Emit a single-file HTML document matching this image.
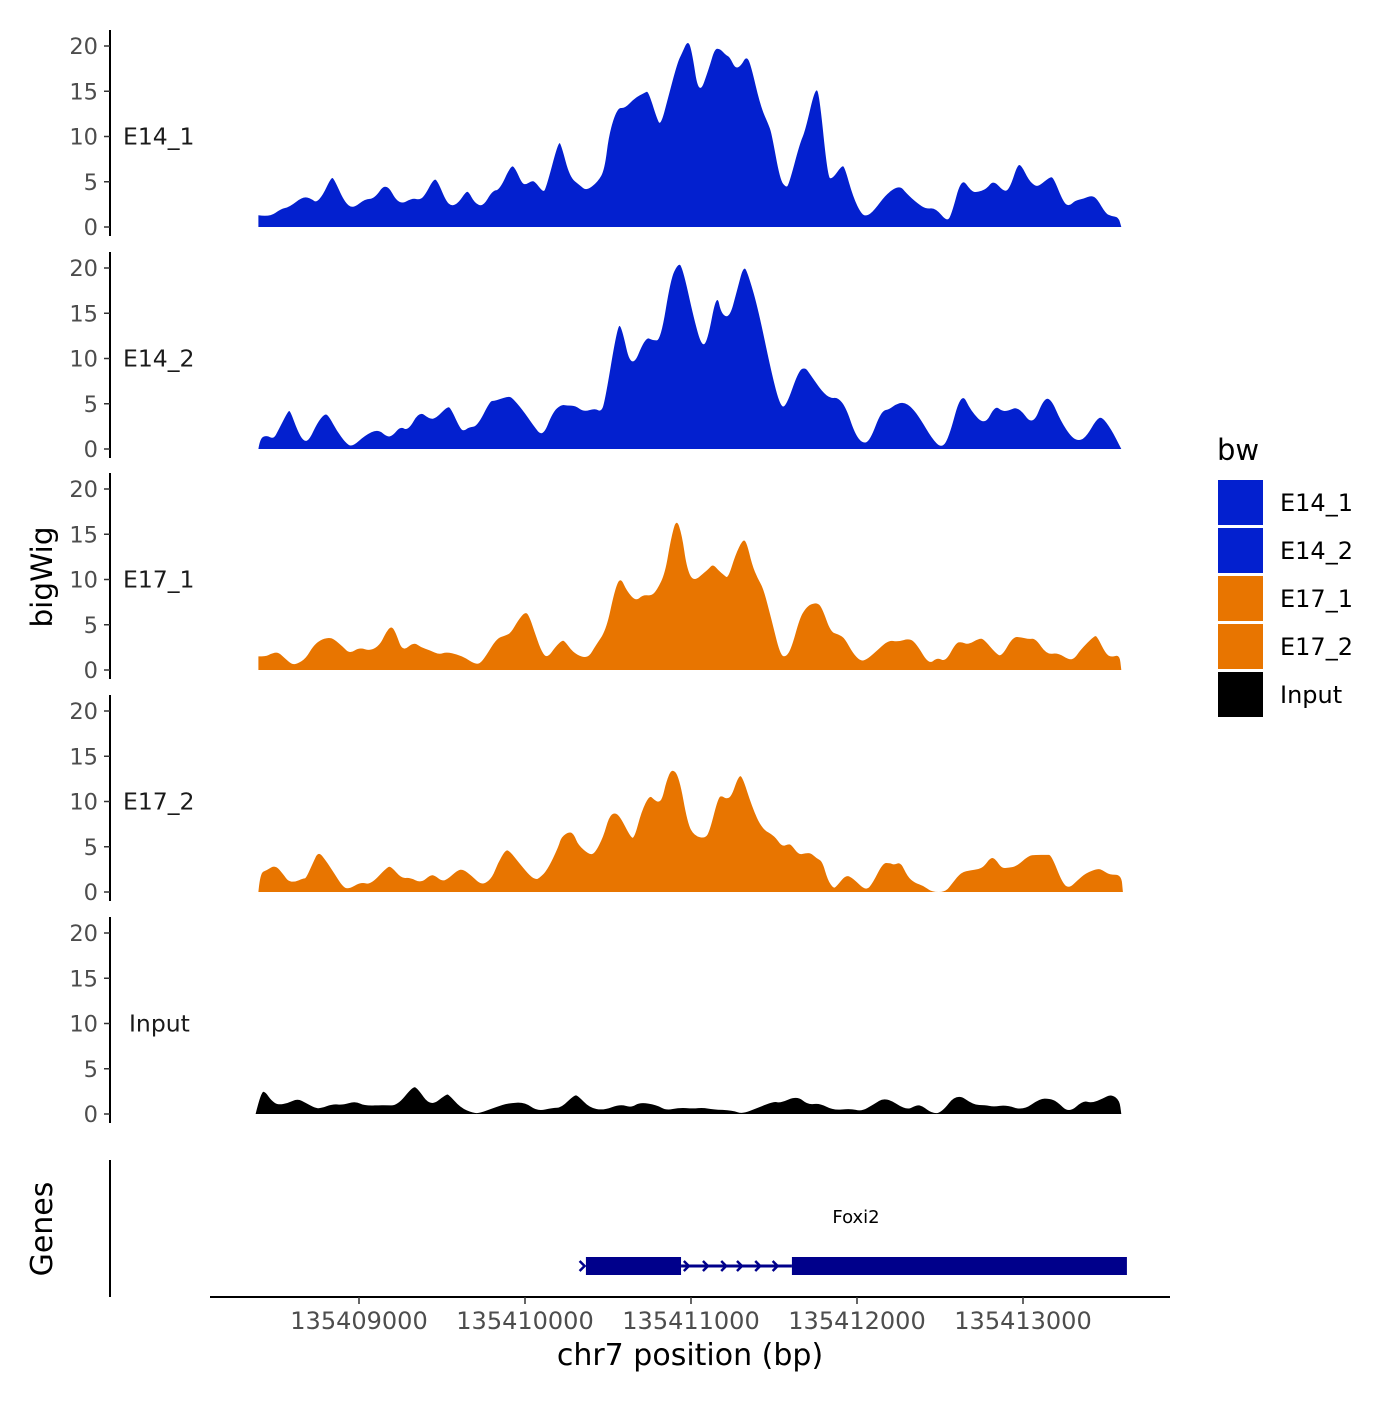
<!DOCTYPE html>
<html><head><meta charset="utf-8"><style>
body{margin:0;background:#fff}
svg text{font-family:"DejaVu Sans","Liberation Sans",sans-serif}
</style></head><body>
<svg id="c" width="1400" height="1400" viewBox="0 0 1400 1400" xmlns="http://www.w3.org/2000/svg"></svg>
<script>
const REGION_START = 135408000;
const xTicks = [135409000, 135410000, 135411000, 135412000, 135413000];
const yTicks = [0, 5, 10, 15, 20];
const trackNames = ["E14_1", "E14_2", "E17_1", "E17_2", "Input"];
const trackColors = ["#0320cf", "#0320cf", "#e87500", "#e87500", "#000000"];

const e14_1Pos = [394,461,529,580,664,715,742,782,833,850,911,962,1036,1093,1164,1239,1323,1357,1391,1452,1475,1526,1560,1600,1644,1661,1695,1746,1803,1847,1915,1938,1982,2006,2040,2060,2107,2124,2202,2219,2270,2330,2371,2439,2479,2506,2557,2601,2658,2726,2743,2794,2817,2861,2919,2946,2979,3003,3047,3108,3142,3175,3209,3233,3267,3301,3334,3361,3419,3470,3486,3537,3571,3588,3655,3689,3750,3774,3824,3851,3909,3926,3977,4027,4061,4102,4179,4257,4298,4365,4416,4473,4541,4568,4629,4686,4720,4781,4822,4889,4923,4967,4991,5034,5075,5102,5160,5183,5244,5278,5312,5362,5413,5447,5498,5531,5575,5592];
const e14_1Val = [1.3,1.1,2.0,2.2,3.4,3.1,2.7,3.5,5.5,5.3,2.8,2.0,3.1,3.1,5.0,2.4,3.2,3.0,3.3,5.4,5.0,2.8,2.3,2.7,3.9,3.9,2.7,2.2,4.0,4.1,6.8,6.6,4.8,4.7,5.1,5.0,3.9,4.1,9.5,9.0,5.5,4.6,4.0,5.0,6.3,10.3,13.2,13.1,14.2,14.9,15.0,12.0,11.2,14.2,18.2,19.2,20.6,19.7,14.4,17.5,19.7,19.7,19.0,18.8,17.5,17.8,18.9,17.9,13.3,11.2,10.3,5.2,4.4,4.6,9.2,10.7,15.5,14.5,5.5,5.3,6.8,6.6,3.3,1.4,1.2,1.8,3.7,4.6,3.7,2.6,2.0,2.1,0.6,1.3,5.5,4.0,3.8,4.2,5.2,3.8,4.4,6.9,6.8,5.2,4.5,4.6,5.5,5.5,2.7,2.3,2.9,3.1,3.5,3.1,1.5,1.2,1.1,0];

const e14_2Pos = [394,404,444,485,512,573,586,630,664,698,749,793,816,867,918,958,1036,1114,1171,1205,1249,1296,1364,1425,1465,1533,1553,1611,1634,1661,1712,1790,1813,1847,1898,1921,1982,2050,2107,2168,2219,2253,2303,2354,2422,2456,2479,2557,2581,2641,2726,2770,2817,2878,2919,2946,3020,3064,3098,3155,3182,3233,3277,3317,3344,3402,3486,3537,3571,3649,3689,3716,3791,3841,3885,3933,3987,4034,4078,4146,4196,4230,4281,4331,4382,4450,4507,4551,4629,4686,4771,4832,4872,4906,4974,5058,5126,5170,5227,5295,5345,5386,5440,5474,5531,5592];
const e14_2Val = [0,1.2,1.5,1.1,2.0,4.2,4.2,2.0,0.9,0.9,2.9,3.9,3.7,2.0,0.7,0.2,1.5,2.2,1.3,1.5,2.5,2.0,4.2,3.3,3.4,4.7,4.5,2.2,2.0,2.4,2.5,5.3,5.3,5.5,5.8,5.7,4.4,2.6,1.3,4.1,4.9,4.8,4.8,4.1,4.5,4.1,5.0,13.6,13.6,8.6,12.4,12.0,12.0,18.8,20.4,20.3,14.2,11.4,11.8,17.3,14.9,14.5,17.5,20.3,19.3,15.7,8.3,4.8,4.6,8.7,9.0,8.3,6.3,5.6,5.7,4.6,1.7,0.6,0.9,4.2,4.4,4.9,5.2,4.6,3.3,1.2,0.1,1.1,6.4,4.2,2.6,4.8,4.2,4.2,4.7,2.5,5.6,5.5,3.1,1.2,0.9,1.5,3.2,3.6,2.2,0];

const e17_1Pos = [394,438,471,512,553,597,630,681,722,766,816,850,901,945,1002,1070,1127,1161,1195,1222,1262,1330,1374,1425,1482,1526,1594,1644,1695,1729,1763,1830,1881,1915,1959,1999,2023,2067,2101,2134,2185,2226,2243,2287,2344,2388,2422,2489,2540,2574,2614,2668,2709,2760,2794,2844,2878,2912,2946,2973,3013,3088,3108,3132,3165,3199,3223,3267,3311,3334,3368,3402,3436,3486,3537,3571,3605,3655,3689,3723,3764,3791,3841,3892,3926,3977,4020,4054,4112,4189,4247,4315,4358,4433,4484,4534,4595,4629,4669,4737,4764,4838,4872,4940,4991,5034,5075,5143,5210,5278,5312,5345,5430,5447,5498,5531,5582,5592];
const e17_1Val = [1.5,1.5,1.8,2.0,1.3,0.6,0.7,1.3,2.6,3.3,3.6,3.4,2.6,1.8,2.5,2.1,2.8,4.1,4.9,4.1,2.0,3.1,2.5,2.2,1.7,2.0,1.7,1.3,0.7,0.7,1.5,3.5,3.8,4.1,5.5,6.4,6.1,3.7,2.0,1.3,2.6,3.3,3.1,2.0,1.4,1.5,2.6,4.4,8.8,10.3,8.7,7.6,8.3,8.2,8.8,10.7,14.4,16.8,14.9,11.4,9.7,10.9,11.2,11.7,11.0,10.5,10.1,12.7,14.4,14.2,11.6,10.1,9.0,5.5,1.7,1.4,2.4,5.7,6.8,7.3,7.4,6.8,4.2,3.9,3.5,1.8,1.0,1.1,2.0,3.3,3.1,3.5,2.9,0.6,1.4,0.9,3.0,3.1,2.8,3.5,3.4,1.8,1.5,3.7,3.6,3.4,3.5,1.7,1.9,1.1,1.3,2.2,3.8,3.7,1.8,1.4,1.7,0];

const e17_2Pos = [394,404,444,495,546,573,613,664,681,722,755,799,850,901,935,1012,1070,1171,1195,1256,1306,1374,1431,1458,1499,1533,1594,1627,1678,1722,1756,1803,1837,1881,1905,1965,2033,2067,2084,2134,2202,2219,2270,2297,2320,2388,2422,2472,2506,2540,2574,2635,2658,2702,2750,2777,2804,2827,2851,2885,2929,2979,3020,3088,3115,3165,3189,3209,3243,3284,3307,3368,3426,3503,3547,3588,3605,3649,3689,3723,3757,3791,3824,3858,3875,3933,3977,4054,4095,4156,4196,4223,4264,4304,4348,4399,4450,4534,4575,4629,4686,4730,4764,4805,4832,4872,4913,4957,5034,5075,5143,5170,5237,5278,5329,5379,5453,5480,5521,5592,5602];
const e17_2Val = [0,2.1,2.4,3.0,1.9,1.2,1.1,1.5,1.5,3.2,4.5,3.5,2.1,0.6,0.3,1.1,0.8,2.8,2.8,1.5,1.6,1.0,1.9,1.8,1.2,1.4,2.4,2.5,1.8,1.0,0.9,1.6,3.2,4.6,4.6,3.2,1.7,1.4,1.5,2.4,5.0,6.1,6.7,6.3,5.2,4.1,4.3,6.1,8.3,8.8,8.3,6.1,5.9,8.9,10.7,10.2,9.9,10.3,12.2,13.7,12.7,7.6,6.2,5.9,6.9,10.5,10.6,10.3,10.5,12.7,12.9,9.4,7.0,6.2,5.0,5.3,5.2,4.1,4.3,4.3,3.7,3.4,1.3,0.4,0.6,1.9,1.5,0.1,1.0,3.2,3.2,3.0,3.3,1.7,1.0,0.7,0,0,1.0,2.2,2.4,2.5,2.8,3.8,3.7,2.6,2.7,2.8,4.0,4.1,4.1,4.1,1.0,0.4,1.3,2.1,2.6,2.4,1.9,1.9,0];

const inputPos = [377,411,438,471,512,573,630,681,732,766,843,901,978,1036,1154,1229,1323,1350,1431,1526,1543,1611,1688,1729,1830,1898,1999,2074,2168,2219,2297,2320,2388,2472,2574,2641,2692,2794,2851,2929,3013,3074,3132,3250,3311,3402,3503,3537,3639,3706,3774,3858,3960,4027,4095,4173,4298,4358,4392,4450,4507,4602,4703,4771,4822,4899,5001,5102,5160,5203,5278,5362,5413,5481,5531,5582,5592];
const inputVal = [0,2.5,2.4,1.5,1.0,1.2,1.7,1.2,0.7,0.6,1.1,1.0,1.4,0.9,1.0,0.9,3.0,2.9,0.8,2.2,2.1,0.7,0.1,0.1,0.8,1.2,1.3,0.3,0.7,0.7,2.1,2.0,0.7,0.4,1.1,0.7,1.3,1.0,0.4,0.7,0.6,0.7,0.5,0.4,0,0.7,1.4,1.2,2.0,1.0,1.2,0.4,0.6,0.3,1.0,1.9,0.4,1.0,0.9,0.1,0.1,2.3,1.0,1.0,0.8,1.0,0.4,1.7,1.7,1.4,0.1,1.5,1.2,1.7,2.2,1.5,0];

const trackPos = [e14_1Pos, e14_2Pos, e17_1Pos, e17_2Pos, inputPos];
const trackVal = [e14_1Val, e14_2Val, e17_1Val, e17_2Val, inputVal];

const geneName = "Foxi2";
const exonStarts = [135410367, 135411608];
const exonEnds = [135410940, 135413626];
const intronArrows = [135410975, 135411090, 135411200, 135411295, 135411405, 135411510];

const svg = document.getElementById('c');
const NS = 'http://www.w3.org/2000/svg';
function mk(tag, attrs, parent) {
  const e = document.createElementNS(NS, tag);
  for (const k in attrs) e.setAttribute(k, attrs[k]);
  (parent || svg).appendChild(e);
  return e;
}
function xScale(bp) { return 359 + (bp - 135409000) * 0.166; }
const panelZero = [227, 449, 670, 892, 1114];
const yPx = 9.05;
function yScale(i, v) { return panelZero[i] - v * yPx; }

trackNames.forEach((name, i) => {
  const g = mk('g', {});
  
  
  const pos = trackPos[i], val = trackVal[i];
  const pts = pos.map((p, k) => [xScale(REGION_START + p), yScale(i, val[k])]);
  let d = 'M' + pts[0][0].toFixed(1) + ',' + panelZero[i] + ' L' + pts[0][0].toFixed(1) + ',' + pts[0][1].toFixed(1);
  for (let k = 1; k < pts.length - 1; k++) {
    const mx = (pts[k][0] + pts[k + 1][0]) / 2, my = (pts[k][1] + pts[k + 1][1]) / 2;
    d += ' Q' + pts[k][0].toFixed(1) + ',' + pts[k][1].toFixed(1) + ' ' + mx.toFixed(1) + ',' + my.toFixed(1);
  }
  const last = pts[pts.length - 1];
  d += ' L' + last[0].toFixed(1) + ',' + last[1].toFixed(1) + ' L' + last[0].toFixed(1) + ',' + panelZero[i] + ' Z';
  const area = mk('path', { d: d, fill: trackColors[i] }, g);
  
  
  const ax = mk('line', { x1: 110, x2: 110, y1: panelZero[i] - 197, y2: panelZero[i] + 9, stroke: '#000', 'stroke-width': 2 }, g);
  
  
  yTicks.forEach(t => {
    const y = yScale(i, t);
    const tk = mk('line', { x1: 104, x2: 110, y1: y, y2: y, stroke: '#333', 'stroke-width': 1.5 }, g);
    
    
    const tl = mk('text', { x: 98, y: y + 8, 'text-anchor': 'end', 'font-size': 22.5, fill: '#4d4d4d' }, g);
    
    
    tl.textContent = t;
  });
  const lb = mk('text', { x: name === 'Input' ? 129 : 123, y: yScale(i, 10) + 8, 'font-size': 23.5, fill: '#1a1a1a' }, g);
  
  
  lb.textContent = name;
});

// gene track
const gg = mk('g', {});


const gax = mk('line', { x1: 110, x2: 110, y1: 1160, y2: 1297, stroke: '#000', 'stroke-width': 2 }, gg);


const intr = mk('line', { x1: xScale(exonEnds[0]), x2: xScale(exonStarts[1]), y1: 1266, y2: 1266, stroke: '#00008b', 'stroke-width': 3 }, gg);


intronArrows.concat([exonStarts[0] - 20]).forEach(b => {
  const x = xScale(b);
  const a = mk('path', { d: `M${x - 3},${1261} L${x + 2},${1266} L${x - 3},${1271}`, fill: 'none', stroke: '#00008b', 'stroke-width': 2.5 }, gg);
  
  
});
exonStarts.forEach((s, k) => {
  const r = mk('rect', { x: xScale(s), y: 1257, width: xScale(exonEnds[k]) - xScale(s), height: 18, fill: '#00008b' }, gg);
  
  
});
const gl = mk('text', { x: 856, y: 1223, 'text-anchor': 'middle', 'font-size': 18, fill: '#000' }, gg);


gl.textContent = geneName;

// x axis
const xa = mk('line', { x1: 210, x2: 1170, y1: 1297, y2: 1297, stroke: '#000', 'stroke-width': 2 });


xTicks.forEach(t => {
  const x = xScale(t);
  const tk = mk('line', { x1: x, x2: x, y1: 1297, y2: 1304, stroke: '#333', 'stroke-width': 1.5 });
  
  
  const tl = mk('text', { x: x, y: 1329, 'text-anchor': 'middle', 'font-size': 24, fill: '#4d4d4d' });
  
  
  tl.textContent = t;
});
</script>
<svg width="1400" height="1400" style="position:absolute;left:0;top:0" xmlns="http://www.w3.org/2000/svg">
<text x="690" y="1365" text-anchor="middle" font-size="30" fill="#000" font-family="DejaVu Sans, Liberation Sans, sans-serif">chr7 position (bp)</text>
<text transform="translate(52,577) rotate(-90)" text-anchor="middle" font-size="29.5" fill="#000" font-family="DejaVu Sans, Liberation Sans, sans-serif">bigWig</text>
<text transform="translate(52,1229) rotate(-90)" text-anchor="middle" font-size="30" fill="#000" font-family="DejaVu Sans, Liberation Sans, sans-serif">Genes</text>
<g font-family="DejaVu Sans, Liberation Sans, sans-serif">
<text x="1217" y="460" font-size="29" fill="#000">bw</text>
<rect x="1218" y="480" width="45" height="45" fill="#0320cf"/>
<rect x="1218" y="528" width="45" height="45" fill="#0320cf"/>
<rect x="1218" y="576" width="45" height="45" fill="#e87500"/>
<rect x="1218" y="624" width="45" height="45" fill="#e87500"/>
<rect x="1218" y="672" width="45" height="45" fill="#000"/>
<text x="1280" y="511" font-size="24">E14_1</text>
<text x="1280" y="559" font-size="24">E14_2</text>
<text x="1280" y="607" font-size="24">E17_1</text>
<text x="1280" y="655" font-size="24">E17_2</text>
<text x="1280" y="703" font-size="24">Input</text>
</g>
</svg>
</body></html>
